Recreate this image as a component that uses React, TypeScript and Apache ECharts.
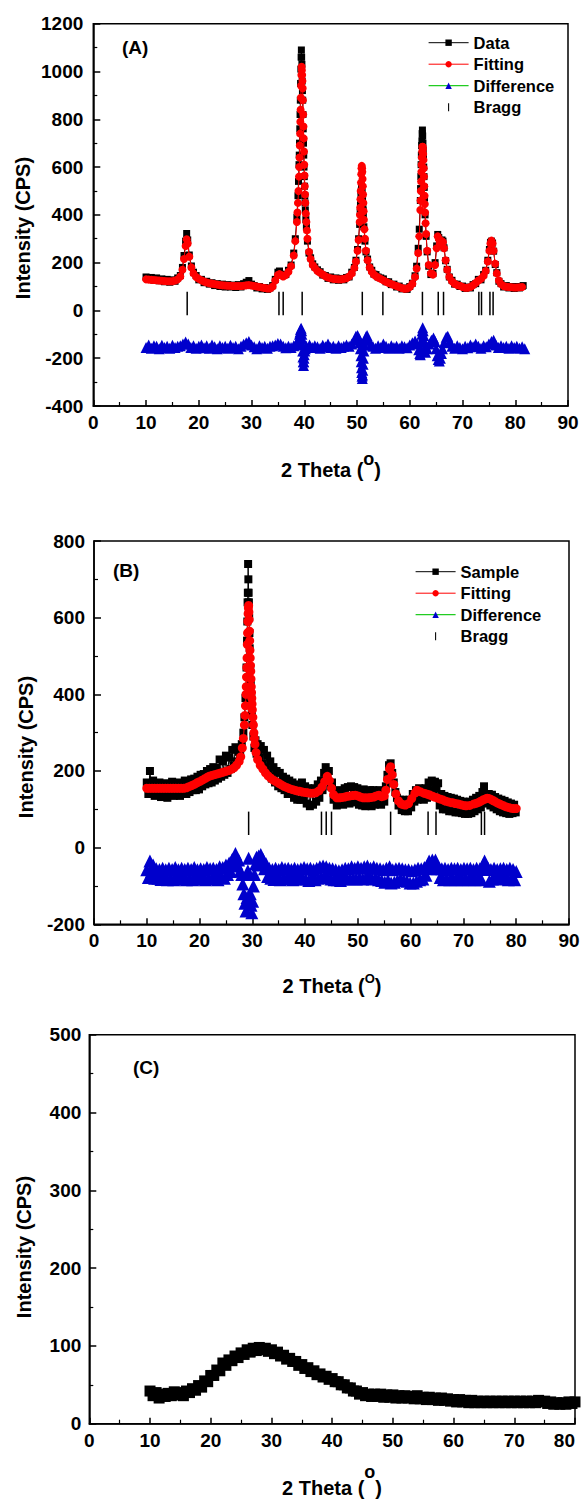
import React, { useEffect, useRef } from 'react';
import * as echarts from 'echarts';

const FONT = 'Arial, "Liberation Sans", Helvetica, sans-serif';

// ---------- Panel A ----------
const dataA: [number, number][] = [
  [10,140],[10.5,132],[11,138],[11.5,126],[12,136],[12.5,124],[13,132],[13.5,120],[14,130],[14.5,118],[15,128],[15.5,122],[16,136],[16.5,146],
  [16.9,180],[17.2,230],[17.5,290],[17.7,322],[17.9,295],[18.2,232],[18.6,186],[19,160],[19.5,146],[20,128],
  [20.5,130],[21,116],[21.5,122],[22,110],[22.5,116],[23,104],[23.5,112],[24,100],[24.5,110],[25,98],[25.5,108],[26,98],[26.5,106],[27,96],[27.5,108],[28,98],[28.5,112],[29,118],[29.5,125],[30,110],[30.5,104],[31,94],[31.5,100],[32,90],[32.5,96],[33,88],[33.5,94],[34,104],[34.5,130],
  [35,160],[35.3,165],[35.6,152],[36,146],[36.5,150],[37,168],[37.5,190],[38,240],[38.3,300],[38.6,390],[38.8,480],[38.9,540],
  [39,610],[39.05,650],[39.1,700],[39.15,760],[39.2,820],[39.25,880],[39.3,950],[39.35,1010],[39.4,1060],[39.45,1090],[39.5,1060],[39.55,1030],[39.6,960],[39.65,920],[39.7,880],[39.75,820],[39.8,760],[39.85,700],[39.9,650],[39.95,600],[40,560],[40.05,520],[40.1,480],[40.15,450],[40.2,420],[40.3,380],[40.4,350],
  [40.6,290],[40.9,240],[41.2,220],[41.6,195],[42,182],[42.5,170],[43,162],[43.5,148],[44,146],[44.5,134],[45,140],[45.5,128],[46,136],[46.5,126],[47,134],[47.5,128],[48,138],[48.5,140],[49,160],[49.5,180],[49.8,210],[50.1,255],[50.3,300],
  [50.5,360],[50.6,410],[50.65,440],[50.7,460],[50.75,485],[50.8,500],[50.85,510],[50.9,505],[50.95,495],[51,480],[51.05,460],[51.1,440],[51.15,420],[51.2,400],[51.3,350],
  [51.5,290],[51.7,245],[52,215],[52.4,182],[52.8,168],[53.2,152],[53.6,150],[54,140],[54.5,136],[55,132],[55.5,120],[56,120],[56.5,108],[57,110],[57.5,98],[58,102],[58.5,90],[59,94],[59.5,88],[60,100],[60.5,114],[61,145],[61.3,185],[61.6,260],[61.8,340],
  [62,460],[62.05,510],[62.1,560],[62.15,610],[62.2,650],[62.25,690],[62.3,710],[62.35,740],[62.4,755],[62.45,730],[62.5,700],[62.55,670],[62.6,640],[62.65,600],[62.7,560],[62.75,515],[62.8,470],[62.9,400],
  [63.1,310],[63.3,245],[63.6,185],[64,150],[64.4,155],[64.8,200],[65.1,270],[65.3,318],[65.5,305],[65.7,285],[65.9,282],[66.1,295],[66.3,290],[66.5,262],[66.8,208],[67.1,172],[67.5,140],[68,126],[68.5,110],[69,110],[69.5,100],[70,102],[70.5,92],[71,98],[71.5,94],[72,108],[72.5,112],[73,130],[73.5,128],[74,150],[74.4,168],[74.8,210],[75.1,255],[75.3,285],[75.5,290],[75.7,282],[75.9,248],[76.2,192],[76.5,158],[76.9,122],[77.3,112],[77.8,98],[78.3,104],[78.8,94],[79.3,100],[79.8,92],[80.3,100],[80.8,94],[81.3,100],[81.5,104]
];

const fitA: [number, number][] = [
  [10,130],[10.5,129],[11,128],[11.5,127],[12,126],[12.5,125],[13,124],[13.5,123],[14,122],[14.5,122],[15,122],[15.5,125],[16,130],[16.5,142],[16.9,170],[17.2,215],[17.5,270],[17.7,298],[17.9,280],[18.2,225],[18.6,180],[19,155],[19.5,140],[20,132],
  [20.5,126],[21,121],[21.5,117],[22,114],[22.5,112],[23,110],[23.5,108],[24,106],[24.5,105],[25,104],[25.5,103],[26,103],[26.5,102],[27,102],[27.5,102],[28,102],[28.5,103],[29,105],[29.5,106],[30,104],[30.5,102],[31,100],[31.5,98],[32,96],[32.5,94],[33,92],[33.5,92],[34,100],[34.5,125],
  [35,148],[35.3,152],[35.6,148],[36,142],[36.5,148],[37,162],[37.5,185],[38,230],[38.3,290],[38.6,370],[38.7,410],[38.8,450],[38.9,500],
  [39,560],[39.05,600],[39.1,640],[39.15,690],[39.2,740],[39.25,790],[39.3,840],[39.35,890],[39.4,940],[39.45,985],[39.5,1020],[39.55,1005],[39.6,985],[39.65,960],[39.7,930],[39.75,880],[39.8,820],[39.85,770],[39.9,720],[39.95,665],[40,610],[40.05,565],[40.1,520],[40.15,485],[40.2,450],[40.3,405],[40.4,370],[40.5,335],[40.6,300],
  [40.9,245],[41.2,215],[41.6,190],[42,178],[42.5,165],[43,158],[43.5,150],[44,143],[44.5,138],[45,135],[45.5,132],[46,131],[46.5,130],[47,130],[47.5,132],[48,135],[48.5,142],[49,155],[49.5,178],[49.8,205],[50.1,250],[50.3,295],
  [50.5,370],[50.55,400],[50.6,430],[50.65,465],[50.7,500],[50.75,535],[50.8,570],[50.85,595],[50.9,605],[50.95,595],[51,580],[51.05,550],[51.1,520],[51.15,485],[51.2,450],[51.25,415],[51.3,380],[51.4,340],[51.5,300],
  [51.7,250],[52,210],[52.4,180],[52.8,162],[53.2,150],[53.6,143],[54,138],[54.5,132],[55,126],[55.5,120],[56,115],[56.5,110],[57,106],[57.5,102],[58,98],[58.5,94],[59,91],[59.5,92],[60,98],[60.5,112],[61,140],[61.3,175],[61.6,240],[61.8,310],
  [62,420],[62.05,460],[62.1,500],[62.15,540],[62.2,580],[62.25,610],[62.3,640],[62.35,665],[62.4,685],[62.45,685],[62.5,675],[62.55,655],[62.6,630],[62.65,595],[62.7,560],[62.75,520],[62.8,480],[62.85,445],[62.9,410],[63,365],[63.1,320],
  [63.3,250],[63.6,190],[64,155],[64.4,150],[64.8,190],[65.1,260],[65.3,310],[65.5,300],[65.7,280],[65.9,278],[66.1,290],[66.3,285],[66.5,260],[66.8,210],[67.1,170],[67.5,140],[68,122],[68.5,112],[69,106],[69.5,103],[70,98],[70.5,95],[71,95],[71.5,98],[72,105],[72.5,115],[73,125],[73.5,132],[74,145],[74.4,165],[74.8,205],[75.1,250],[75.3,280],[75.5,292],[75.7,280],[75.9,250],[76.2,195],[76.5,155],[76.9,125],[77.3,110],[77.8,102],[78.3,99],[78.8,98],[79.3,97],[79.8,96],[80.3,96],[80.8,97],[81.3,98]
];

const diffA: [number, number][] = [
  [10,-155],[10.5,-145],[11,-158],[11.5,-148],[12,-150],[12.5,-160],[13,-146],[13.5,-155],[14,-150],[14.5,-158],[15,-146],[15.5,-155],[16,-150],[16.5,-148],[17,-140],[17.5,-132],[18,-140],[18.5,-155],[19,-148],[19.5,-158],[20,-150],
  [20.5,-145],[21,-156],[21.5,-148],[22,-158],[22.5,-145],[23,-152],[23.5,-160],[24,-148],[24.5,-155],[25,-150],[25.5,-158],[26,-146],[26.5,-155],[27,-150],[27.5,-160],[28,-150],[28.5,-142],[29,-135],[29.5,-130],[30,-145],
  [30.5,-152],[31,-160],[31.5,-148],[32,-155],[32.5,-150],[33,-158],[33.5,-150],[34,-148],[34.5,-145],[35,-138],[35.5,-140],[36,-150],[36.5,-156],[37,-150],[37.5,-155],[38,-148],[38.5,-140],
  [38.8,-130],[39,-115],[39.1,-100],[39.2,-90],[39.3,-80],[39.4,-75],[39.5,-85],[39.55,-100],[39.6,-120],[39.65,-145],[39.7,-170],[39.75,-195],[39.8,-215],[39.85,-230],[39.9,-215],[39.95,-200],[40,-185],[40.1,-170],[40.2,-160],[40.4,-150],
  [41,-145],[41.5,-155],[42,-148],[42.5,-152],[43,-158],[43.5,-146],[44,-152],[44.5,-140],[45,-155],[45.5,-150],[46,-158],[46.5,-148],[47,-155],[47.5,-150],[48,-145],[48.5,-150],[49,-140],
  [49.5,-125],[49.8,-108],[50.1,-105],[50.3,-115],[50.5,-135],[50.65,-160],[50.75,-190],[50.8,-215],[50.85,-240],[50.9,-260],[50.95,-275],[51,-285],[51.05,-270],[51.1,-250],[51.15,-225],[51.2,-200],[51.3,-170],[51.4,-145],[51.5,-125],[51.7,-110],[51.9,-105],[52.2,-125],[52.6,-145],
  [53,-150],[53.5,-158],[54,-148],[54.5,-155],[55,-140],[55.5,-150],[56,-158],[56.5,-148],[57,-155],[57.5,-150],[58,-158],[58.5,-148],[59,-152],[59.5,-156],[60,-145],[60.5,-135],
  [61,-128],[61.4,-140],[61.7,-165],[61.9,-180],[62,-185],[62.1,-160],[62.2,-130],[62.3,-100],[62.35,-85],[62.45,-72],[62.55,-85],[62.65,-105],[62.75,-130],[62.85,-155],[63,-175],[63.3,-160],[63.7,-140],[64.1,-125],
  [64.5,-115],[64.8,-130],[65,-160],[65.2,-190],[65.4,-205],[65.6,-212],[65.8,-200],[66,-180],[66.2,-160],[66.5,-135],[66.9,-112],[67.2,-108],[67.6,-130],
  [68,-150],[68.5,-158],[69,-148],[69.5,-155],[70,-160],[70.5,-150],[71,-156],[71.5,-145],[72,-152],[72.5,-140],[73,-150],[73.5,-158],[74,-148],[74.5,-152],[75,-140],[75.5,-130],[75.9,-125],[76.3,-145],[76.8,-155],[77.3,-148],[77.8,-155],[78.3,-150],[78.8,-158],[79.3,-148],[79.8,-155],[80.3,-150],[80.8,-158],[81.3,-152],[81.8,-160]
];

const braggA: number[] = [17.8, 35.2, 36.0, 39.6, 51.0, 54.9, 62.4, 65.4, 66.4, 73.1, 73.6, 75.2, 75.8];
const braggSpanA: [number, number] = [-20, 78];

// ---------- Panel B ----------
const dataB: [number, number][] = [
  [10,170],[10.3,140],[10.6,200],[10.9,150],[11.2,175],[11.5,135],[11.8,165],[12.1,140],[12.4,170],[12.7,132],[13,160],[13.3,138],[13.6,168],[13.9,130],[14.2,160],[14.5,140],[14.8,172],[15.1,135],[15.4,165],[15.7,140],[16,170],[16.3,135],[16.6,165],[16.9,142],[17.2,175],[17.5,140],[17.8,168],[18.1,145],[18.4,178],[18.7,150],[19,180],[19.3,150],[19.6,185],[19.9,152],
  [20.2,190],[20.5,160],[20.8,192],[21.1,165],[21.4,200],[21.7,168],[22,205],[22.3,170],[22.6,210],[22.9,175],[23.2,208],[23.5,180],[23.8,230],[24.1,185],[24.4,225],[24.7,190],[25,240],[25.3,195],[25.6,235],[25.9,205],[26.2,255],[26.5,215],[26.8,262],[27.1,225],[27.4,250],[27.7,245],[28,270],[28.3,300],[28.5,340],[28.7,390],
  [28.9,470],[29.0,540],[29.05,590],[29.1,640],[29.15,665],[29.2,740],[29.25,700],[29.3,665],[29.35,640],[29.4,600],[29.45,560],[29.5,520],[29.6,470],[29.7,430],[29.8,390],[29.9,350],[30.0,320],[30.2,290],[30.4,260],[30.6,280],[30.8,245],
  [31,270],[31.3,235],[31.6,265],[31.9,220],[32.2,255],[32.5,210],[32.8,240],[33.1,195],[33.4,225],[33.7,180],[34,210],[34.3,170],[34.6,200],[34.9,160],[35.2,195],[35.5,155],[35.8,185],[36.1,150],[36.4,180],[36.7,140],[37,175],[37.3,140],[37.6,170],[37.9,130],[38.2,165],[38.5,125],[38.8,162],[39.1,125],[39.4,170],[39.7,125],
  [40,160],[40.3,115],[40.6,155],[40.9,108],[41.2,150],[41.5,112],[41.8,155],[42.1,120],[42.4,165],[42.7,130],[43,175],[43.3,150],[43.6,195],[43.9,210],[44.2,190],[44.5,200],[44.8,160],[45.1,170],[45.4,125],[45.7,140],[46,110],[46.3,150],[46.6,115],[46.9,148],[47.2,112],[47.5,155],[47.8,118],[48.1,158],[48.4,115],[48.7,160],[49,120],[49.3,158],[49.6,118],[49.9,155],
  [50.2,112],[50.5,150],[50.8,110],[51.1,152],[51.4,108],[51.7,148],[52,110],[52.3,150],[52.6,108],[52.9,150],[53.2,112],[53.5,148],[53.8,115],[54.1,150],[54.4,112],[54.7,145],[55,120],[55.3,160],[55.6,190],[55.9,215],[56.2,220],[56.5,195],[56.8,170],[57.1,145],[57.4,130],[57.7,110],[58,125],[58.3,98],[58.6,125],[58.9,95],[59.2,120],[59.5,95],[59.8,125],
  [60.1,105],[60.4,140],[60.7,120],[61,150],[61.3,125],[61.6,155],[61.9,130],[62.2,150],[62.5,125],[62.8,155],[63.1,130],[63.4,170],[63.7,150],[64,175],[64.3,150],[64.6,172],[64.9,155],[65.2,168],[65.5,110],[65.8,140],[66.1,100],[66.4,135],[66.7,100],[67,132],[67.3,95],[67.6,130],[67.9,95],[68.2,128],[68.5,92],[68.8,125],[69.1,92],[69.4,122],[69.7,90],
  [70,120],[70.3,88],[70.6,118],[70.9,88],[71.2,120],[71.5,90],[71.8,125],[72.1,95],[72.4,130],[72.7,100],[73,135],[73.3,105],[73.6,145],[73.9,160],[74.2,140],[74.5,115],[74.8,140],[75.1,110],[75.4,138],[75.7,105],[76,132],[76.3,100],[76.6,128],[76.9,95],[77.2,125],[77.5,92],[77.8,122],[78.1,90],[78.4,118],[78.7,88],[79,115],[79.3,90],[79.6,112],[79.9,92]
];

const fitB: [number, number][] = [
  [10,155],[10.5,155],[11,155],[11.5,155],[12,155],[12.5,155],[13,155],[13.5,155],[14,155],[14.5,155],[15,155],[15.5,155],[16,155],[16.5,155],[17,155],[17.5,156],[18,159],[18.5,162],[19,165],[19.5,169],[20,172],[20.5,176],[21,180],[21.5,184],[22,187],[22.5,189],[23,191],[23.5,193],[24,195],[24.5,197],[25,199],[25.5,201],[26,204],[26.5,208],[27,215],[27.5,225],[27.8,237],[28.1,260],[28.3,285],
  [28.5,320],[28.6,345],[28.7,370],[28.8,400],[28.85,420],[28.9,445],[28.95,470],[29.0,495],[29.05,530],[29.1,560],[29.15,590],[29.2,610],[29.25,625],[29.3,632],[29.35,615],[29.4,595],[29.45,565],[29.5,540],[29.55,515],[29.6,495],[29.65,475],[29.7,460],[29.75,440],[29.8,420],[29.85,405],[29.9,390],[29.95,375],[30.0,360],[30.1,340],[30.2,320],[30.3,300],[30.4,285],[30.5,270],
  [30.7,248],[31,230],[31.5,215],[32,205],[32.5,195],[33,187],[33.5,181],[34,176],[34.5,172],[35,168],[35.5,164],[36,160],[36.5,157],[37,154],[37.5,152],[38,150],[38.5,148],[39,147],[39.5,145],[40,144],[40.5,143],[41,142],[41.5,142],[42,143],[42.6,148],[43.2,158],[43.7,172],[44.2,186],[44.6,175],[45,155],[45.4,138],
  [46,130],[46.5,130],[47,131],[47.5,132],[48,134],[48.5,135],[49,136],[49.5,137],[50,135],[50.5,132],[51,130],[51.5,130],[52,130],[52.5,131],[53,132],[53.5,135],[54,137],[54.5,133],[55,135],[55.3,150],[55.6,178],[56,205],[56.2,211],[56.5,190],[56.8,165],[57.2,140],[57.7,122],[58.2,114],[58.6,112],[59,111],[59.6,115],[60.2,128],[60.8,142],[61.2,150],
  [61.8,146],[62.5,142],[63,140],[63.5,138],[64,135],[64.5,132],[65,130],[65.5,127],[66,125],[66.5,122],[67,120],[67.5,118],[68,117],[68.5,115],[69,114],[69.5,112],[70,110],[70.5,109],[71.2,110],[72,114],[72.5,116],[73,119],[73.4,122],[73.8,125],[74.2,127],[74.5,129],[74.8,128],[75.2,126],[75.6,123],[76,120],[76.5,116],[77,113],[77.5,110],[78,107],[78.5,105],[79,103],[79.5,102],[80,102]
];

const diffB: [number, number][] = [
  [10,-58],[10.3,-78],[10.6,-35],[10.9,-62],[11.2,-45],[11.5,-80],[11.8,-55],[12.1,-80],[12.4,-57],[12.7,-83],[13,-54],[13.3,-78],[13.6,-58],[13.9,-84],[14.2,-54],[14.5,-80],[14.8,-57],[15.1,-84],[15.4,-52],[15.7,-78],[16,-58],[16.3,-82],[16.6,-54],[16.9,-80],[17.2,-57],[17.5,-84],[17.8,-54],[18.1,-80],[18.4,-57],[18.7,-84],[19,-52],[19.3,-80],[19.6,-58],[19.9,-82],
  [20.2,-55],[20.5,-80],[20.8,-57],[21.1,-84],[21.4,-52],[21.7,-80],[22,-55],[22.3,-82],[22.6,-54],[22.9,-80],[23.2,-57],[23.5,-84],[23.8,-50],[24.1,-76],[24.4,-52],[24.7,-80],[25,-45],[25.3,-70],[25.6,-40],[25.9,-62],[26.2,-30],[26.5,-48],[26.8,-15],[27.1,-42],[27.4,-32],[27.7,-60],
  [28,-70],[28.2,-95],[28.4,-120],[28.6,-145],[28.8,-165],[29,-130],[29.15,-60],[29.3,-28],[29.45,-70],[29.6,-120],[29.75,-150],[29.9,-170],[30.05,-140],[30.2,-100],[30.4,-70],[30.6,-42],[30.8,-25],[31,-45],[31.2,-22],[31.4,-40],[31.6,-18],[31.8,-42],[32,-30],[32.3,-55],[32.6,-42],[32.9,-75],
  [33.2,-54],[33.5,-80],[33.8,-57],[34.1,-83],[34.4,-54],[34.7,-80],[35,-57],[35.3,-84],[35.6,-52],[35.9,-80],[36.2,-55],[36.5,-82],[36.8,-54],[37.1,-80],[37.4,-57],[37.7,-84],[38,-54],[38.3,-80],[38.6,-57],[38.9,-82],[39.2,-55],[39.5,-80],[39.8,-52],
  [40.1,-82],[40.4,-55],[40.7,-86],[41,-54],[41.3,-80],[41.6,-57],[41.9,-84],[42.2,-54],[42.5,-80],[42.8,-50],[43.1,-78],[43.4,-48],[43.7,-74],[44,-50],[44.3,-78],[44.6,-54],[44.9,-82],[45.2,-55],[45.5,-84],[45.8,-58],[46.1,-84],[46.4,-60],[46.7,-86],[47,-58],[47.3,-82],[47.6,-54],[47.9,-80],[48.2,-55],[48.5,-82],[48.8,-50],[49.1,-80],[49.4,-54],[49.7,-82],
  [50,-50],[50.3,-80],[50.6,-54],[50.9,-82],[51.2,-50],[51.5,-80],[51.8,-48],[52.1,-76],[52.4,-54],[52.7,-82],[53,-50],[53.3,-80],[53.6,-54],[53.9,-84],[54.2,-55],[54.5,-86],[54.8,-58],[55.1,-90],[55.4,-54],[55.7,-86],[56,-50],[56.3,-92],[56.6,-58],[56.9,-90],[57.2,-55],[57.5,-86],[57.8,-54],[58.1,-82],[58.4,-55],[58.7,-86],[59,-58],[59.3,-88],[59.6,-58],[59.9,-92],
  [60.2,-60],[60.5,-92],[60.8,-58],[61.1,-88],[61.4,-54],[61.7,-84],[62,-55],[62.3,-82],[62.6,-52],[62.9,-72],[63.2,-45],[63.5,-35],[63.8,-55],[64.1,-32],[64.4,-52],[64.7,-32],[65,-55],[65.3,-52],[65.6,-78],[65.9,-55],[66.2,-84],[66.5,-54],[66.8,-82],[67.1,-57],[67.4,-84],[67.7,-54],[68,-80],[68.3,-55],[68.6,-84],[68.9,-54],[69.2,-80],[69.5,-57],[69.8,-84],
  [70.1,-54],[70.4,-80],[70.7,-55],[71,-84],[71.3,-54],[71.6,-80],[71.9,-57],[72.2,-84],[72.5,-54],[72.8,-80],[73.1,-55],[73.4,-84],[73.7,-45],[74,-35],[74.3,-57],[74.6,-52],[74.9,-88],[75.2,-57],[75.5,-82],[75.8,-54],[76.1,-80],[76.4,-57],[76.7,-82],[77,-55],[77.3,-80],[77.6,-54],[77.9,-80],[78.2,-57],[78.5,-84],[78.8,-54],[79.1,-80],[79.4,-57],[79.7,-84],[80,-62]
];

const braggB: number[] = [29.3, 43.1, 44.0, 45.0, 56.2, 63.3, 64.8, 73.4, 74.0];
const braggSpanB: [number, number] = [33, 94];

// ---------- Panel C ----------
const dataC: [number, number][] = [
  [10,42],[10.5,36],[11,40],[11.5,33],[12,38],[12.5,35],[13,39],[13.5,36],[14,41],[14.5,37],[15,40],[15.5,36],[16,42],[16.5,40],[17,45],[17.5,43],[18,49],[18.5,47],[19,55],[19.5,54],
  [20,62],[20.5,62],[21,69],[21.5,68],[22,78],[22.5,75],[23,82],[23.5,81],[24,87],[24.5,85],[25,91],[25.5,89],[26,95],[26.5,92],[27,97],[27.5,94],[28,98],[28.5,95],[29,97],[29.5,93],
  [30,95],[30.5,90],[31,92],[31.5,87],[32,88],[32.5,83],[33,84],[33.5,80],[34,80],[34.5,75],[35,76],[35.5,71],[36,72],[36.5,67],[37,68],[37.5,63],[38,64],[38.5,60],[39,61],[39.5,57],
  [40,58],[40.5,54],[41,54],[41.5,50],[42,50],[42.5,46],[43,46],[43.5,42],[44,42],[44.5,38],[45,40],[45.5,36],[46,38],[46.5,35],[47,38],[47.5,35],[48,38],[48.5,34],[49,37],[49.5,34],
  [50,37],[50.5,33],[51,36],[51.5,33],[52,36],[52.5,33],[53,35],[53.5,32],[54,36],[54.5,32],[55,34],[55.5,31],[56,34],[56.5,31],[57,33],[57.5,30],[58,33],[58.5,30],[59,32],[59.5,29],
  [60,31],[60.5,28],[61,31],[61.5,28],[62,30],[62.5,27],[63,30],[63.5,27],[64,29],[64.5,27],[65,29],[65.5,27],[66,29],[66.5,27],[67,29],[67.5,27],[68,29],[68.5,27],[69,29],[69.5,27],
  [70,29],[70.5,27],[71,29],[71.5,27],[72,29],[72.5,27],[73,29],[73.5,27],[74,30],[74.5,28],[75,29],[75.5,26],[76,28],[76.5,25],[77,27],[77.5,25],[78,27],[78.5,25],[79,28],[79.5,26],[80,28]
];

const legendA: string[] = ['Data', 'Fitting', 'Difference', 'Bragg'];
const legendB: string[] = ['Sample', 'Fitting', 'Difference', 'Bragg'];
const xTitleText = '2 Theta (';
const yTitleText = 'Intensity (CPS)';

const BLACK = '#000000';
const RED = '#ff0000';
const BLUE = '#0000cc';
const GREEN = '#22cc22';

const plainNum = (v: number) => String(v);

function mkX(gridIndex: number, max: number, alignMax: string) {
  return {
    gridIndex, type: 'value', min: 0, max, interval: 10,
    axisLine: { show: true, onZero: false, lineStyle: { color: BLACK, width: 1.5 } },
    axisTick: { show: true, inside: true, length: 6, lineStyle: { color: BLACK, width: 1.5 } },
    minorTick: { show: true, splitNumber: 2, length: 4, lineStyle: { color: BLACK, width: 1.2 } },
    splitLine: { show: false }, minorSplitLine: { show: false },
    axisLabel: { show: true, color: BLACK, fontSize: 19, fontWeight: 'bold', fontFamily: FONT, margin: 7, showMinLabel: true, showMaxLabel: true, hideOverlap: false, alignMaxLabel: alignMax, formatter: plainNum },
  };
}
function mkY(gridIndex: number, min: number, max: number, interval: number, margin: number) {
  return {
    gridIndex, type: 'value', min, max, interval,
    axisLine: { show: true, onZero: false, lineStyle: { color: BLACK, width: 1.5 } },
    axisTick: { show: true, inside: true, length: 7, lineStyle: { color: BLACK, width: 1.5 } },
    minorTick: { show: true, splitNumber: 2, length: 4, lineStyle: { color: BLACK, width: 1.2 } },
    splitLine: { show: false }, minorSplitLine: { show: false },
    axisLabel: { show: true, color: BLACK, fontSize: 19, fontWeight: 'bold', fontFamily: FONT, margin, showMinLabel: true, showMaxLabel: true, hideOverlap: false, formatter: plainNum },
  };
}

function lineSeries(name: string, idx: number, data: [number, number][], symbol: string, size: number, fill: string, stroke: string, lineWidth: number, z: number) {
  return {
    name, type: 'line', xAxisIndex: idx, yAxisIndex: idx, data,
    symbol, symbolSize: size, showSymbol: true, showAllSymbol: true, silent: true, z,
    itemStyle: { color: fill },
    lineStyle: { color: stroke, width: lineWidth, opacity: lineWidth > 0 ? 1 : 0 },
    emphasis: { disabled: true },
    animation: false,
  };
}

function braggSeries(idx: number, pos: number[], span: [number, number]) {
  return {
    name: 'Bragg', type: 'custom', xAxisIndex: idx, yAxisIndex: idx, silent: true, z: 5,
    itemStyle: { color: BLACK },
    data: pos.map((p) => [p, span[0], span[1]]),
    encode: { x: 0, y: [1, 2] },
    renderItem: (_params: any, api: any) => {
      const a = api.coord([api.value(0), api.value(1)]);
      const b = api.coord([api.value(0), api.value(2)]);
      return { type: 'line', shape: { x1: a[0], y1: a[1], x2: b[0], y2: b[1] }, style: { stroke: BLACK, lineWidth: 1.5 } };
    },
  };
}

function mkLegend(names: string[], left: number, top: number) {
  return {
    show: true, orient: 'vertical', left, top, padding: 0, itemWidth: 40, itemHeight: 8, itemGap: 1.5,
    selectedMode: false,
    textStyle: { fontSize: 16.5, fontWeight: 'bold', color: BLACK, fontFamily: FONT, lineHeight: 20 },
    data: names.map((n) => {
      if (n === 'Bragg') return { name: n, icon: 'path://M0,0L1.6,0L1.6,12L0,12Z', itemStyle: { color: BLACK } };
      if (n === 'Fitting') return { name: n, itemStyle: { color: RED }, lineStyle: { color: RED, width: 1, opacity: 1 } };
      if (n === 'Difference') return { name: n, itemStyle: { color: BLUE }, lineStyle: { color: GREEN, width: 1.2, opacity: 1 } };
      return { name: n, itemStyle: { color: BLACK }, lineStyle: { color: BLACK, width: 1, opacity: 1 } };
    }),
  };
}

function xTitle(cx: number, cy: number, sup: string, supSize: number, lineH: number) {
  return {
    type: 'text', x: cx, y: cy, silent: true,
    style: {
      text: `{t|${xTitleText}}{s|${sup}}{t|)}`,
      align: 'center', verticalAlign: 'middle', textAlign: 'center', textVerticalAlign: 'middle',
      fill: BLACK,
      rich: {
        t: { fontSize: 20, fontWeight: 'bold', fontFamily: FONT, fill: BLACK, lineHeight: lineH },
        s: { fontSize: supSize, fontWeight: 'bold', fontFamily: FONT, fill: BLACK, lineHeight: 14, verticalAlign: 'top' },
      },
    },
  };
}
function yTitle(cx: number, cy: number) {
  return {
    type: 'text', x: cx, y: cy, rotation: Math.PI / 2, silent: true,
    style: {
      text: yTitleText, fill: BLACK, fontSize: 20, fontWeight: 'bold', fontFamily: FONT,
      align: 'center', verticalAlign: 'middle', textAlign: 'center', textVerticalAlign: 'middle',
    },
  };
}
function panelLabel(text: string, x: number, y: number) {
  return {
    type: 'text', x, y, silent: true,
    style: { text, fill: BLACK, fontSize: 19, fontWeight: 'bold', fontFamily: FONT, align: 'left', verticalAlign: 'middle', textAlign: 'left', textVerticalAlign: 'middle' },
  };
}

const gridBase = { show: true, borderColor: BLACK, borderWidth: 1.5, backgroundColor: 'transparent', containLabel: false, outerBoundsMode: 'none' };

export default function App() {
  const ref = useRef<HTMLDivElement>(null);
  useEffect(() => {
    if (!ref.current) return;
    const chart = echarts.init(ref.current, null, { renderer: 'svg' });
    const option: any = {
      animation: false,
      backgroundColor: '#ffffff',
      grid: [
        { ...gridBase, left: 93.3, top: 23.7, width: 474.7, height: 382.3 },
        { ...gridBase, left: 94, top: 541, width: 475, height: 383.3 },
        { ...gridBase, left: 89.3, top: 1034.7, width: 485.7, height: 389 },
      ],
      xAxis: [mkX(0, 90, 'center'), mkX(1, 90, 'center'), mkX(2, 80, 'right')],
      yAxis: [mkY(0, -400, 1200, 200, 10), mkY(1, -200, 800, 200, 9), mkY(2, 0, 500, 100, 8)],
      legend: [mkLegend(legendA, 428, 32.7), mkLegend(legendB, 415, 561.7)],
      series: [
        lineSeries('Data', 0, dataA, 'rect', 7, BLACK, BLACK, 1, 2),
        lineSeries('Fitting', 0, fitA, 'circle', 8, RED, RED, 1, 3),
        lineSeries('Difference', 0, diffA, 'triangle', 11, BLUE, GREEN, 0, 2),
        braggSeries(0, braggA, braggSpanA),
        lineSeries('Sample', 1, dataB, 'rect', 8, BLACK, BLACK, 1, 2),
        lineSeries('Fitting', 1, fitB, 'circle', 9, RED, RED, 1, 3),
        lineSeries('Difference', 1, diffB, 'triangle', 13, BLUE, GREEN, 0, 2),
        braggSeries(1, braggB, braggSpanB),
        lineSeries('Intensity', 2, dataC, 'rect', 11, BLACK, BLACK, 1, 2),
      ],
      graphic: [
        panelLabel('(A)', 122, 47),
        panelLabel('(B)', 113, 570),
        panelLabel('(C)', 133, 1067),
        yTitle(22.5, 228),
        yTitle(26, 747),
        yTitle(23.5, 1247),
        xTitle(331, 470, 'o', 18, 40),
        xTitle(332, 986, 'O', 13, 28),
        xTitle(332, 1488, 'o', 18, 50),
      ],
    };
    chart.setOption(option);
    return () => chart.dispose();
  }, []);
  return <div ref={ref} style={{ position: 'absolute', left: 0, top: 0, width: 582, height: 1501 }} />;
}
